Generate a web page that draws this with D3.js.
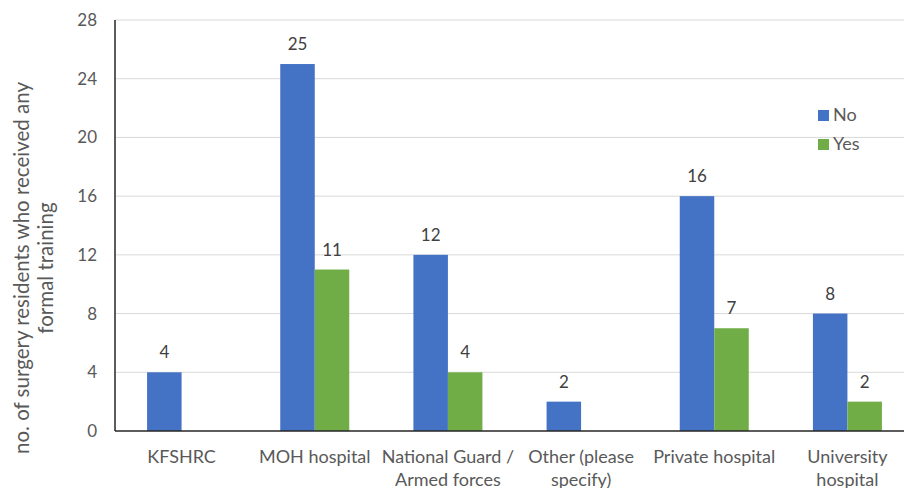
<!DOCTYPE html>
<html>
<head>
<meta charset="utf-8">
<script src="https://cdn.jsdelivr.net/npm/d3@7"></script>
<style>
  body { margin: 0; background: #fff; }
  svg text { font-family: Lato, "Open Sans", sans-serif; fill: #595959; }
</style>
</head>
<body>
<div id="chart"></div>
<script>
(function() {

  // data
  const categories = [
    ["KFSHRC"],
    ["MOH hospital"],
    ["National Guard /", "Armed forces"],
    ["Other (please", "specify)"],
    ["Private hospital"],
    ["University", "hospital"]
  ];
  const seriesNames = ["No", "Yes"];
  const noValues = [4, 25, 12, 2, 16, 8];
  const yesValues = [null, 11, 4, null, 7, 2];
  const yTicks = [0, 4, 8, 12, 16, 20, 24, 28];
  const colors = ["#4472c4", "#70ad47"];

  const width = 904, height = 488;
  const left = 115, top = 20, bottom = 431, right = 914;

  const svg = d3.select("#chart").append("svg")
      .attr("width", width)
      .attr("height", height);

  const x = d3.scaleBand().domain(d3.range(categories.length)).range([left, right]);
  const barW = 34.5;
  const y = d3.scaleLinear().domain([0, 28]).range([bottom, top]);

  // gridlines
  svg.selectAll(".grid")
    .data(yTicks.filter(t => t > 0))
    .enter().append("line")
      .attr("x1", left).attr("x2", width)
      .attr("y1", d => y(d)).attr("y2", d => y(d))
      .attr("stroke", "#d9d9d9").attr("stroke-width", 1);

  // y tick labels
  svg.selectAll(".ytick")
    .data(yTicks)
    .enter().append("text")
      .attr("x", 97)
      .attr("y", d => y(d))
      .attr("dy", "0.35em")
      .attr("text-anchor", "end")
      .style("font-size", "17px")
      .text(d => d);

  // bars
  const series = [noValues, yesValues];
  series.forEach((vals, s) => {
    const data = vals.map((v, i) => ({v, i})).filter(d => d.v != null);
    svg.selectAll(".bar" + s)
      .data(data)
      .enter().append("rect")
        .attr("x", d => x(d.i) + x.bandwidth() / 2 + (s - 1) * barW)
        .attr("y", d => y(d.v))
        .attr("width", barW)
        .attr("height", d => y(0) - y(d.v))
        .attr("fill", colors[s]);

    svg.selectAll(".lbl" + s)
      .data(data)
      .enter().append("text")
        .attr("x", d => x(d.i) + x.bandwidth() / 2 + (s - 0.5) * barW)
        .attr("y", d => y(d.v) - 14)
        .attr("text-anchor", "middle")
        .style("font-size", "17px")
        .style("fill", "#404040")
        .text(d => d.v);
  });

  // axes lines
  svg.append("line")
      .attr("x1", left).attr("x2", width)
      .attr("y1", bottom).attr("y2", bottom)
      .attr("stroke", "#262626").attr("stroke-width", 1.5);
  svg.append("line")
      .attr("x1", left).attr("x2", left)
      .attr("y1", top).attr("y2", bottom)
      .attr("stroke", "#262626").attr("stroke-width", 1.5);

  // x labels
  const xl = svg.selectAll(".xlab")
    .data(categories)
    .enter().append("text")
      .attr("x", (d, i) => x(i) + x.bandwidth() / 2)
      .attr("y", 463)
      .attr("text-anchor", "middle")
      .style("font-size", "18px");
  xl.selectAll("tspan")
    .data(d => d)
    .enter().append("tspan")
      .attr("x", function() { return d3.select(this.parentNode).attr("x"); })
      .attr("dy", (d, i) => i === 0 ? 0 : 23)
      .text(d => d);

  // y axis title
  const yt = svg.append("text")
      .attr("transform", "translate(22,268) rotate(-90)")
      .attr("text-anchor", "middle")
      .style("font-size", "20.5px");
  yt.append("tspan").attr("x", 0).attr("dy", "0.35em").text("no. of surgery residents  who received any");
  yt.append("tspan").attr("x", 0).attr("dy", 24).text("formal training");

  // legend
  const lg = svg.selectAll(".legend")
    .data(seriesNames)
    .enter().append("g")
      .attr("transform", (d, i) => `translate(818,${115 + i * 29})`);
  lg.append("rect")
      .attr("x", 0).attr("y", -5)
      .attr("width", 11).attr("height", 11)
      .attr("fill", (d, i) => colors[i]);
  lg.append("text")
      .attr("x", 15).attr("y", 0)
      .attr("dy", "0.35em")
      .style("font-size", "18px")
      .text(d => d);

})();
</script>
</body>
</html>
